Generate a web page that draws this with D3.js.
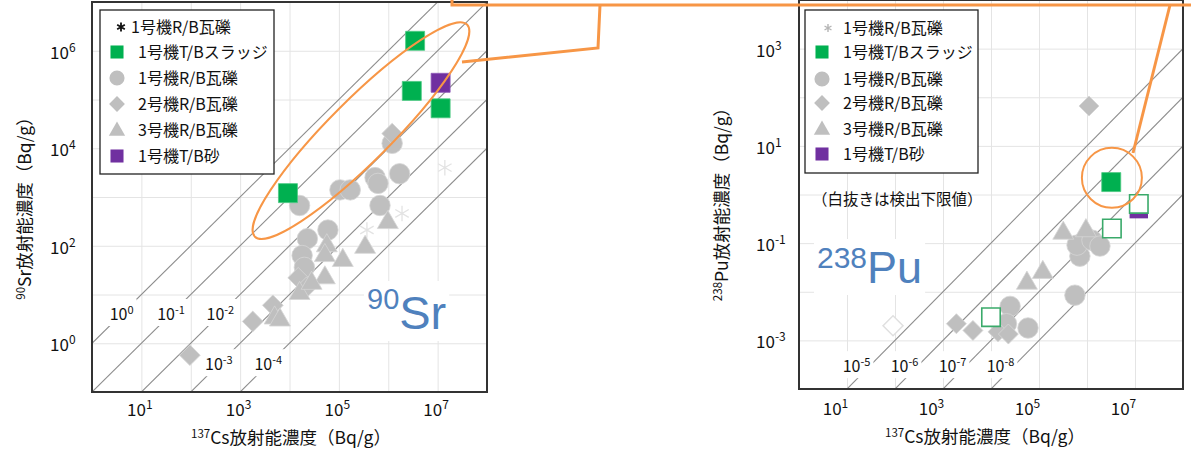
<!DOCTYPE html>
<html>
<head>
<meta charset="utf-8">
<script src="https://cdn.jsdelivr.net/npm/d3@7"></script>
<style>
  body { margin: 0; background: #fff; }
  svg { display: block; }
</style>
</head>
<body>
<svg id="chart" width="1191" height="454"></svg>
<script>
// ---------- tick values and reference ratios ----------
const csTicks = [1e1, 1e3, 1e5, 1e7];
const srTicks = [1e0, 1e2, 1e4, 1e6];
const puTicks = [1e-3, 1e-1, 1e1, 1e3];
const srRatios = [1e0, 1e-1, 1e-2, 1e-3, 1e-4];
const puRatios = [1e-5, 1e-6, 1e-7, 1e-8];

const legendLabels = ["1号機R/B瓦礫", "1号機T/Bスラッジ", "1号機R/B瓦礫", "2号機R/B瓦礫", "3号機R/B瓦礫", "1号機T/B砂"];

// ---------- 90Sr vs 137Cs  [Cs Bq/g, Sr Bq/g] ----------
const srU1Asterisk = [[1.4e7, 4.0e3], [1.9e6, 4.6e2], [3.7e5, 2.1e2]];
const srU1Rubble = [
  [1.6e4, 6.7e2], [1.2e6, 1.26e4], [5.4e5, 2.5e3], [6.2e5, 1.9e3], [1.7e6, 3.0e3],
  [1.05e5, 1.4e3], [1.7e5, 1.4e3], [6.8e5, 6.7e2], [6.0e4, 2.1e2], [2.3e4, 1.4e2],
  [1.8e4, 63], [2.0e4, 36]
];
const srU2Rubble = [[1.2e6, 2.0e4], [1.5e4, 22], [2.2e4, 14], [4.6e3, 6], [1.8e3, 2.8], [96, 0.57]];
const srU3Rubble = [
  [5.7e4, 100], [5.2e4, 63], [1.2e5, 50], [5.2e4, 22], [3.4e5, 93], [9.8e5, 300],
  [1.6e4, 10.5], [2.8e4, 17], [5.0e3, 3.3], [6.4e3, 3.0]
];
const srU1Sludge = [[3.5e6, 1.6e6], [3.0e6, 1.5e5], [1.15e7, 6.6e4], [9.3e3, 1.2e3]];
const srU1Sand = [[1.15e7, 2.2e5]];

// ---------- 238Pu vs 137Cs  [Cs Bq/g, Pu Bq/g] ----------
const puU1Rubble = [
  [5.6e5, 8.5e-3], [7.1e5, 5.4e-2], [6.2e5, 9.1e-2], [1.27e6, 0.115], [1.86e6, 8.7e-2],
  [2.5e4, 5.0e-3], [2.1e4, 2.2e-3], [5.9e4, 1.8e-3]
];
const puU2Rubble = [[1.1e6, 66], [1.9e3, 2.2e-3], [4.2e3, 1.6e-3], [1.4e4, 1.5e-3], [2.3e4, 1.35e-3]];
const puU2RubbleDL = [[91, 2.0e-3]];
const puU3Rubble = [[3.2e5, 0.16], [9.5e5, 0.18], [5.6e4, 1.5e-2], [1.2e5, 2.5e-2]];
const puU1Sludge = [[3.2e6, 1.8]];
const puU1Sand = [[1.2e7, 0.5]];
const puU1SludgeDL = [[3.3e6, 0.2], [1.2e7, 0.64], [1.0e4, 3.0e-3]];

// ---------- styling ----------
const FONT = '"Noto Sans CJK JP","Noto Sans",sans-serif';
const ARIAL = '"Liberation Sans",Arial,sans-serif';
const GRAY = "#bfbfbf", GREEN = "#00b050", PURPLE = "#7030a0";
const ORANGE = "#f79646", BLUE = "#4f81bd";

const svg = d3.select("#chart");
const defs = svg.append("defs");

const shapes = {
  circle: d3.symbolCircle, square: d3.symbolSquare, diamond: d3.symbolSquare,
  triangle: d3.symbolTriangle, asterisk: d3.symbolAsterisk
};
function symbolPath(type, size) {
  return d3.symbol(shapes[type], size)();
}
function symbolTransform(type, px, py) {
  return `translate(${px},${py})` + (type === "diamond" ? " rotate(45)" : "");
}

// "10" with a raised exponent
function powerText(sel, exp, size, supSize, rise) {
  sel.append("tspan").attr("font-size", size).text("10");
  sel.append("tspan").attr("font-size", supSize).attr("dy", -rise).text(exp);
}

function drawPanel(cfg) {
  const x = d3.scaleLog().domain(cfg.xDomain).range([cfg.left, cfg.right]);
  const y = d3.scaleLog().domain(cfg.yDomain).range([cfg.bottom, cfg.top]);
  const w = cfg.right - cfg.left, h = cfg.bottom - cfg.top;
  const g = svg.append("g");

  defs.append("clipPath").attr("id", "clip-" + cfg.id)
    .append("rect").attr("x", cfg.left).attr("y", cfg.top).attr("width", w).attr("height", h);

  // decade grid
  const xDec = d3.range(Math.log10(cfg.xDomain[0]) + 1, Math.log10(cfg.xDomain[1])).map(e => Math.pow(10, e));
  const yDec = d3.range(Math.log10(cfg.yDomain[0]) + 1, Math.log10(cfg.yDomain[1])).map(e => Math.pow(10, e));
  const gx = g.append("g").attr("transform", `translate(0,${cfg.bottom})`)
    .call(d3.axisBottom(x).tickValues(xDec).tickSize(-h).tickFormat(""));
  const gy = g.append("g").attr("transform", `translate(${cfg.left},0)`)
    .call(d3.axisLeft(y).tickValues(yDec).tickSize(-w).tickFormat(""));
  [gx, gy].forEach(a => {
    a.select(".domain").remove();
    a.selectAll("line").attr("stroke", "#e4e4e4").attr("stroke-width", 1);
  });

  // constant-ratio diagonals y = r * x
  const line = d3.line().x(d => x(d[0])).y(d => y(d[1]));
  const diag = g.append("g").attr("clip-path", `url(#clip-${cfg.id})`);
  cfg.ratios.forEach(r => {
    diag.append("path")
      .attr("d", line([[cfg.xDomain[0], r * cfg.xDomain[0]], [cfg.xDomain[1], r * cfg.xDomain[1]]]))
      .attr("fill", "none").attr("stroke", "#8c8c8c").attr("stroke-width", 1.1);
  });

  // ratio labels on white patches
  cfg.ratios.forEach((r, i) => {
    const ly = cfg.ratioLabelY[i];
    const lx = ly / r;
    const px = x(lx) + cfg.ratioLabelDx, py = y(ly);
    const lg = g.append("g");
    const t = lg.append("text").attr("x", px).attr("y", py + 6)
      .attr("text-anchor", "middle").attr("font-family", FONT).attr("fill", "#111");
    powerText(t, String(Math.round(Math.log10(r))), 16, 11, 6);
    const bb = t.node().getBBox();
    lg.insert("rect", "text").attr("x", bb.x - 3).attr("y", bb.y - 2)
      .attr("width", bb.width + 6).attr("height", bb.height + 3).attr("fill", "#fff");
  });

  // nuclide label
  const ng = g.append("g");
  const nt = ng.append("text").attr("x", cfg.nuclideX).attr("y", cfg.nuclideY)
    .attr("font-family", ARIAL).attr("fill", BLUE);
  nt.append("tspan").attr("font-size", cfg.nuclideSupSize).attr("dy", -cfg.nuclideRise).text(cfg.nuclideMass);
  nt.append("tspan").attr("font-size", cfg.nuclideSize).attr("dy", cfg.nuclideRise).text(cfg.nuclideSym);
  const nb = nt.node().getBBox();
  ng.insert("rect", "text").attr("x", nb.x - 3).attr("y", nb.y - 2)
    .attr("width", nb.width + 6).attr("height", nb.height + 4).attr("fill", "#fff");

  // data points
  const marks = g.append("g");
  cfg.series.forEach(s => {
    marks.append("g").selectAll("path").data(s.data).join("path")
      .attr("d", symbolPath(s.type, s.size))
      .attr("transform", d => symbolTransform(s.type, x(d[0]), y(d[1])))
      .attr("fill", s.fill).attr("stroke", s.stroke).attr("stroke-width", s.strokeWidth);
  });

  // frame
  g.append("rect").attr("x", cfg.left).attr("y", cfg.top).attr("width", w).attr("height", h)
    .attr("fill", "none").attr("stroke", "#333").attr("stroke-width", 2);

  // x tick labels
  const xa = g.append("g").attr("transform", `translate(${cfg.xLabelDx},${cfg.xLabelY})`)
    .call(d3.axisBottom(x).tickValues(csTicks).tickSize(0).tickPadding(0));
  xa.select(".domain").remove();
  xa.attr("font-family", FONT).attr("font-size", null);
  xa.selectAll(".tick text").each(function (d) {
    const t = d3.select(this).text(null).attr("dy", null).attr("y", 6.5).attr("fill", "#111");
    powerText(t, String(Math.round(Math.log10(d))), 17, 12, 7);
  });

  // y tick labels
  const ya = g.append("g").attr("transform", `translate(${cfg.yLabelX},${cfg.yLabelDy})`)
    .call(d3.axisLeft(y).tickValues(cfg.yTicks).tickSize(0).tickPadding(0));
  ya.select(".domain").remove();
  ya.attr("font-family", FONT).attr("font-size", null).attr("text-anchor", "start");
  ya.selectAll(".tick text").each(function (d) {
    const t = d3.select(this).text(null).attr("dy", null).attr("x", 0).attr("y", 6.5).attr("fill", "#111");
    powerText(t, String(Math.round(Math.log10(d))), 17, 12, 7);
  });

  // axis titles
  const xt = g.append("text").attr("x", cfg.xTitleX).attr("y", cfg.xTitleY + 6)
    .attr("text-anchor", "middle").attr("font-family", FONT).attr("fill", "#111");
  xt.append("tspan").attr("font-size", 11.5).attr("dy", -6).text("137");
  xt.append("tspan").attr("font-size", 17.5).attr("dy", 6).text("Cs放射能濃度（Bq/g）");

  const yt = g.append("text")
    .attr("transform", `translate(${cfg.yTitleX + 6},${cfg.yTitleY}) rotate(-90)`)
    .attr("text-anchor", "middle").attr("font-family", FONT).attr("fill", "#111");
  yt.append("tspan").attr("font-size", 11.5).attr("dy", -6).text(cfg.nuclideMass);
  yt.append("tspan").attr("font-size", 17.5).attr("dy", 6).text(cfg.nuclideSym + "放射能濃度（Bq/g）");

  // legend
  const L = cfg.legend;
  const lg = g.append("g");
  lg.append("rect").attr("x", L.x).attr("y", L.y).attr("width", L.w).attr("height", L.h)
    .attr("fill", "#fff").attr("stroke", "#222").attr("stroke-width", 1.3);
  const legendKeys = [
    { type: "asterisk", size: L.astSize, fill: "none", stroke: L.astColor, sw: L.astWidth },
    { type: "square", size: 170, fill: GREEN, stroke: "none", sw: 0 },
    { type: "circle", size: 180, fill: GRAY, stroke: "none", sw: 0 },
    { type: "diamond", size: 125, fill: GRAY, stroke: "none", sw: 0 },
    { type: "triangle", size: 115, fill: GRAY, stroke: "none", sw: 0 },
    { type: "square", size: 170, fill: PURPLE, stroke: "none", sw: 0 }
  ];
  legendLabels.forEach((lab, i) => {
    const k = legendKeys[i];
    const ry = L.rows[i];
    const sx = i === 0 ? L.astX : L.symX;
    lg.append("path").attr("d", symbolPath(k.type, k.size))
      .attr("transform", symbolTransform(k.type, sx, ry + (k.type === "triangle" ? 1 : 0)))
      .attr("fill", k.fill).attr("stroke", k.stroke).attr("stroke-width", k.sw);
    lg.append("text").attr("x", i === 0 ? L.firstTextX : L.textX).attr("y", ry + 6)
      .attr("font-family", FONT).attr("font-size", 16).attr("fill", "#111").text(lab);
  });

  return { x, y, g };
}

// ---------- 90Sr panel ----------
const sr = drawPanel({
  id: "sr", xDomain: [1, 1e8], yDomain: [1e-1, 1e7],
  left: 92, right: 487, top: 2, bottom: 392,
  ratios: srRatios,
  ratioLabelY: [Math.pow(10, 0.6), Math.pow(10, 0.6), Math.pow(10, 0.6), Math.pow(10, -0.43), Math.pow(10, -0.43)],
  ratioLabelDx: 0,
  yTicks: srTicks,
  xLabelY: 409, xLabelDx: -2, yLabelX: 50, yLabelDy: 1,
  xTitleX: 291, xTitleY: 438, yTitleX: 25, yTitleY: 204,
  nuclideMass: "90", nuclideSym: "Sr", nuclideX: 367, nuclideY: 329,
  nuclideSize: 47, nuclideSupSize: 29, nuclideRise: 20,
  legend: { x: 100, y: 10, w: 174, h: 164, rows: [27, 52, 78, 104, 130, 156],
            symX: 117, textX: 138, astX: 121, firstTextX: 131,
            astSize: 55, astColor: "#111", astWidth: 1.8 },
  series: [
    { data: srU1Asterisk, type: "asterisk", size: 170, fill: "none", stroke: "#e3e3e3", strokeWidth: 1.3 },
    { data: srU1Rubble, type: "circle", size: 330, fill: GRAY, stroke: "#d6d6d6", strokeWidth: 0.8 },
    { data: srU2Rubble, type: "diamond", size: 215, fill: GRAY, stroke: "#d6d6d6", strokeWidth: 0.8 },
    { data: srU3Rubble, type: "triangle", size: 190, fill: GRAY, stroke: "#d6d6d6", strokeWidth: 0.8 },
    { data: srU1Sludge, type: "square", size: 361, fill: GREEN, stroke: "#4cc983", strokeWidth: 0.8 },
    { data: srU1Sand, type: "square", size: 361, fill: PURPLE, stroke: "#8a55b5", strokeWidth: 0.8 }
  ]
});

// ---------- 238Pu panel ----------
const pu = drawPanel({
  id: "pu", xDomain: [1, 1e8], yDomain: [1e-4, 1e4],
  left: 799, right: 1183, top: 0, bottom: 389,
  ratios: puRatios,
  ratioLabelY: puRatios.map(() => Math.pow(10, -3.53)),
  ratioLabelDx: -13,
  yTicks: puTicks,
  xLabelY: 408, xLabelDx: -12, yLabelX: 756, yLabelDy: 1,
  xTitleX: 985, xTitleY: 437, yTitleX: 722, yTitleY: 200,
  nuclideMass: "238", nuclideSym: "Pu", nuclideX: 817, nuclideY: 283,
  nuclideSize: 45, nuclideSupSize: 30, nuclideRise: 15,
  legend: { x: 805, y: 10, w: 173, h: 163, rows: [28, 52, 79, 103, 129, 154],
            symX: 822, textX: 843, astX: 828, firstTextX: 843,
            astSize: 45, astColor: "#b5b5b5", astWidth: 1.4 },
  series: [
    { data: puU2RubbleDL, type: "diamond", size: 200, fill: "#fff", stroke: "#e0e0e0", strokeWidth: 1.5 },
    { data: puU1Rubble, type: "circle", size: 330, fill: GRAY, stroke: "#d6d6d6", strokeWidth: 0.8 },
    { data: puU2Rubble, type: "diamond", size: 200, fill: GRAY, stroke: "#d6d6d6", strokeWidth: 0.8 },
    { data: puU3Rubble, type: "triangle", size: 190, fill: GRAY, stroke: "#d6d6d6", strokeWidth: 0.8 },
    { data: puU1Sludge, type: "square", size: 361, fill: GREEN, stroke: "#4cc983", strokeWidth: 0.8 },
    { data: puU1Sand, type: "square", size: 340, fill: PURPLE, stroke: "none", strokeWidth: 0 },
    { data: puU1SludgeDL, type: "square", size: 340, fill: "#fff", stroke: "#3aaa6a", strokeWidth: 1.6 }
  ]
});

// note on open symbols
pu.g.append("text").attr("x", 812).attr("y", 205)
  .attr("font-family", FONT).attr("font-size", 15.5).attr("fill", "#111")
  .text("（白抜きは検出下限値）");

// ---------- highlight annotations ----------
const ann = svg.append("g").attr("fill", "none").attr("stroke", ORANGE);
const srFocus = [2.8e5, 2.3e4];
ann.append("ellipse")
  .attr("cx", 0).attr("cy", 0).attr("rx", 150).attr("ry", 31)
  .attr("transform", `translate(${sr.x(srFocus[0])},${sr.y(srFocus[1])}) rotate(-45)`)
  .attr("stroke-width", 2);
const puFocus = [3.3e6, 2.2];
ann.append("circle").attr("cx", pu.x(puFocus[0])).attr("cy", pu.y(puFocus[1])).attr("r", 30)
  .attr("stroke-width", 2);
ann.append("path").attr("d", "M452,-4 L452,5 L1195,5").attr("stroke-width", 3);
ann.append("path").attr("d", "M462,62 L598,48 L600,5").attr("stroke-width", 3).attr("stroke-linejoin", "miter");
ann.append("path").attr("d", "M1170,5 L1133,153").attr("stroke-width", 3);
</script>
</body>
</html>
